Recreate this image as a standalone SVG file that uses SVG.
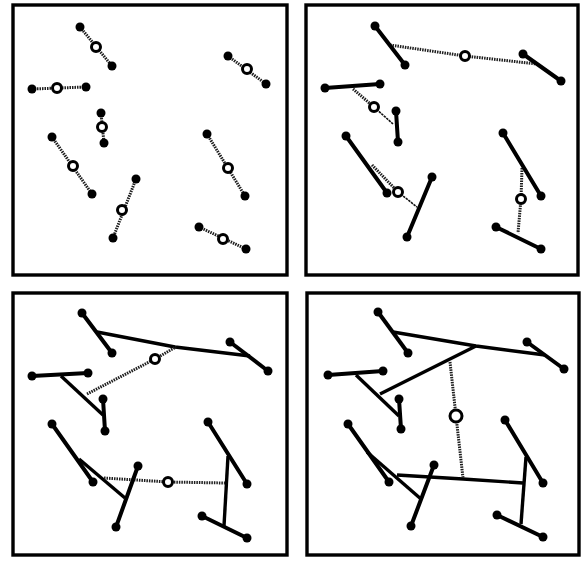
<svg xmlns="http://www.w3.org/2000/svg" width="583" height="564" viewBox="0 0 583 564">
<style>
.bg{fill:#fff}
.frame{fill:#fff;stroke:#000;stroke-width:3.4}
.seg{stroke:#000;stroke-width:4;stroke-linecap:round;fill:none}
.wavy{fill:none;stroke:#1e1e1e;stroke-width:3;stroke-dasharray:1.5 1}
.thin{fill:none;stroke:#111;stroke-width:1.6;stroke-dasharray:2.5 0.8}
.dot{fill:#000}
.ring{fill:#fff;stroke:#000;stroke-width:3}
.join{fill:none;stroke:#000;stroke-width:3.4;stroke-linejoin:round}
</style>
<rect class="bg" x="0" y="0" width="583" height="564"/>

<!-- Panel 1 -->
<g id="panel1">
<rect class="frame" x="13" y="5" width="274" height="270"/>
<g id="p1s1"><line class="wavy" x1="80" y1="27" x2="112" y2="66"/><circle class="dot" cx="80" cy="27" r="4.5"/><circle class="dot" cx="112" cy="66" r="4.5"/><circle class="ring" cx="96" cy="47" r="4.5"/></g>
<g id="p1s2"><line class="wavy" x1="228" y1="56" x2="266" y2="84"/><circle class="dot" cx="228" cy="56" r="4.5"/><circle class="dot" cx="266" cy="84" r="4.5"/><circle class="ring" cx="247" cy="69" r="4.5"/></g>
<g id="p1s3"><line class="wavy" x1="32" y1="89" x2="86" y2="87"/><circle class="dot" cx="32" cy="89" r="4.5"/><circle class="dot" cx="86" cy="87" r="4.5"/><circle class="ring" cx="57" cy="88" r="4.5"/></g>
<g id="p1s4"><line class="wavy" x1="101" y1="113" x2="104" y2="143"/><circle class="dot" cx="101" cy="113" r="4.5"/><circle class="dot" cx="104" cy="143" r="4.5"/><circle class="ring" cx="102" cy="127" r="4.5"/></g>
<g id="p1s5"><line class="wavy" x1="52" y1="137" x2="92" y2="194"/><circle class="dot" cx="52" cy="137" r="4.5"/><circle class="dot" cx="92" cy="194" r="4.5"/><circle class="ring" cx="73" cy="166" r="4.5"/></g>
<g id="p1s6"><line class="wavy" x1="136" y1="179" x2="113" y2="238"/><circle class="dot" cx="136" cy="179" r="4.5"/><circle class="dot" cx="113" cy="238" r="4.5"/><circle class="ring" cx="122" cy="210" r="4.5"/></g>
<g id="p1s7"><line class="wavy" x1="207" y1="134" x2="245" y2="196"/><circle class="dot" cx="207" cy="134" r="4.5"/><circle class="dot" cx="245" cy="196" r="4.5"/><circle class="ring" cx="228" cy="168" r="4.5"/></g>
<g id="p1s8"><line class="wavy" x1="199" y1="227" x2="246" y2="249"/><circle class="dot" cx="199" cy="227" r="4.5"/><circle class="dot" cx="246" cy="249" r="4.5"/><circle class="ring" cx="223" cy="239" r="4.5"/></g>
</g>

<!-- Panel 2 -->
<g id="panel2">
<rect class="frame" x="306" y="5" width="272" height="270"/>
<g id="p2links">
<polyline class="wavy" points="390,45 465,56 537,64"/>
<polyline class="wavy" points="353,89 374,107"/>
<polyline class="thin" points="374,107 393,124"/>
<polyline class="wavy" points="372,165 398,192"/>
<polyline class="thin" points="398,192 417,207"/>
<polyline class="wavy" points="522,168 521,199 518,233"/>
</g>
<g id="p2s1"><line class="seg" x1="375" y1="26" x2="405" y2="65"/><circle class="dot" cx="375" cy="26" r="4.5"/><circle class="dot" cx="405" cy="65" r="4.5"/></g>
<g id="p2s2"><line class="seg" x1="523" y1="54" x2="561" y2="81"/><circle class="dot" cx="523" cy="54" r="4.5"/><circle class="dot" cx="561" cy="81" r="4.5"/></g>
<g id="p2s3"><line class="seg" x1="325" y1="88" x2="380" y2="84"/><circle class="dot" cx="325" cy="88" r="4.5"/><circle class="dot" cx="380" cy="84" r="4.5"/></g>
<g id="p2s4"><line class="seg" x1="396" y1="111" x2="398" y2="142"/><circle class="dot" cx="396" cy="111" r="4.5"/><circle class="dot" cx="398" cy="142" r="4.5"/></g>
<g id="p2s5"><line class="seg" x1="346" y1="136" x2="387" y2="193"/><circle class="dot" cx="346" cy="136" r="4.5"/><circle class="dot" cx="387" cy="193" r="4.5"/></g>
<g id="p2s6"><line class="seg" x1="432" y1="177" x2="407" y2="237"/><circle class="dot" cx="432" cy="177" r="4.5"/><circle class="dot" cx="407" cy="237" r="4.5"/></g>
<g id="p2s7"><line class="seg" x1="503" y1="133" x2="541" y2="196"/><circle class="dot" cx="503" cy="133" r="4.5"/><circle class="dot" cx="541" cy="196" r="4.5"/></g>
<g id="p2s8"><line class="seg" x1="496" y1="227" x2="541" y2="249"/><circle class="dot" cx="496" cy="227" r="4.5"/><circle class="dot" cx="541" cy="249" r="4.5"/></g>
<g id="p2rings">
<circle class="ring" cx="465" cy="56" r="4.5"/>
<circle class="ring" cx="374" cy="107" r="4.5"/>
<circle class="ring" cx="398" cy="192" r="4.5"/>
<circle class="ring" cx="521" cy="199" r="4.5"/>
</g>
</g>

<!-- Panel 3 -->
<g id="panel3">
<rect class="frame" x="13" y="293" width="274" height="262"/>
<g id="p3links">
<polyline class="join" points="97,332 175,347 250,356"/>
<polyline class="join" points="61,376 103,415"/>
<polyline class="join" points="79,459 125,498"/>
<polyline class="join" points="228,456 224,526"/>
<polyline class="wavy" points="87,394 155,359 176,347"/>
<polyline class="wavy" points="104,478 168,482 225,483"/>
</g>
<g id="p3s1"><line class="seg" x1="82" y1="313" x2="112" y2="353"/><circle class="dot" cx="82" cy="313" r="4.5"/><circle class="dot" cx="112" cy="353" r="4.5"/></g>
<g id="p3s2"><line class="seg" x1="230" y1="342" x2="268" y2="371"/><circle class="dot" cx="230" cy="342" r="4.5"/><circle class="dot" cx="268" cy="371" r="4.5"/></g>
<g id="p3s3"><line class="seg" x1="32" y1="376" x2="88" y2="373"/><circle class="dot" cx="32" cy="376" r="4.5"/><circle class="dot" cx="88" cy="373" r="4.5"/></g>
<g id="p3s4"><line class="seg" x1="103" y1="399" x2="105" y2="431"/><circle class="dot" cx="103" cy="399" r="4.5"/><circle class="dot" cx="105" cy="431" r="4.5"/></g>
<g id="p3s5"><line class="seg" x1="52" y1="424" x2="93" y2="482"/><circle class="dot" cx="52" cy="424" r="4.5"/><circle class="dot" cx="93" cy="482" r="4.5"/></g>
<g id="p3s6"><line class="seg" x1="138" y1="466" x2="116" y2="527"/><circle class="dot" cx="138" cy="466" r="4.5"/><circle class="dot" cx="116" cy="527" r="4.5"/></g>
<g id="p3s7"><line class="seg" x1="208" y1="422" x2="247" y2="484"/><circle class="dot" cx="208" cy="422" r="4.5"/><circle class="dot" cx="247" cy="484" r="4.5"/></g>
<g id="p3s8"><line class="seg" x1="202" y1="516" x2="247" y2="538"/><circle class="dot" cx="202" cy="516" r="4.5"/><circle class="dot" cx="247" cy="538" r="4.5"/></g>
<g id="p3rings">
<circle class="ring" cx="155" cy="359" r="4.5"/>
<circle class="ring" cx="168" cy="482" r="4.5"/>
</g>
</g>

<!-- Panel 4 -->
<g id="panel4">
<rect class="frame" x="307" y="293" width="272" height="262"/>
<g id="p4links">
<polyline class="join" points="393,332 476,346 545,355"/>
<polyline class="join" points="356,375 399,416"/>
<polyline class="join" points="380,394 476,346"/>
<polyline class="join" points="367,452 421,499"/>
<polyline class="join" points="526,457 521,524"/>
<polyline class="join" points="397,475 463,479 523,483"/>
<polyline class="wavy" points="450,362 456,416 463,478"/>
</g>
<g id="p4s1"><line class="seg" x1="378" y1="312" x2="408" y2="353"/><circle class="dot" cx="378" cy="312" r="4.5"/><circle class="dot" cx="408" cy="353" r="4.5"/></g>
<g id="p4s2"><line class="seg" x1="527" y1="342" x2="564" y2="369"/><circle class="dot" cx="527" cy="342" r="4.5"/><circle class="dot" cx="564" cy="369" r="4.5"/></g>
<g id="p4s3"><line class="seg" x1="328" y1="375" x2="383" y2="371"/><circle class="dot" cx="328" cy="375" r="4.5"/><circle class="dot" cx="383" cy="371" r="4.5"/></g>
<g id="p4s4"><line class="seg" x1="399" y1="399" x2="401" y2="429"/><circle class="dot" cx="399" cy="399" r="4.5"/><circle class="dot" cx="401" cy="429" r="4.5"/></g>
<g id="p4s5"><line class="seg" x1="348" y1="424" x2="389" y2="482"/><circle class="dot" cx="348" cy="424" r="4.5"/><circle class="dot" cx="389" cy="482" r="4.5"/></g>
<g id="p4s6"><line class="seg" x1="434" y1="465" x2="411" y2="526"/><circle class="dot" cx="434" cy="465" r="4.5"/><circle class="dot" cx="411" cy="526" r="4.5"/></g>
<g id="p4s7"><line class="seg" x1="505" y1="420" x2="543" y2="483"/><circle class="dot" cx="505" cy="420" r="4.5"/><circle class="dot" cx="543" cy="483" r="4.5"/></g>
<g id="p4s8"><line class="seg" x1="497" y1="515" x2="543" y2="537"/><circle class="dot" cx="497" cy="515" r="4.5"/><circle class="dot" cx="543" cy="537" r="4.5"/></g>
<g id="p4rings">
<circle class="ring" cx="456" cy="416" r="6"/>
</g>
</g>
</svg>
